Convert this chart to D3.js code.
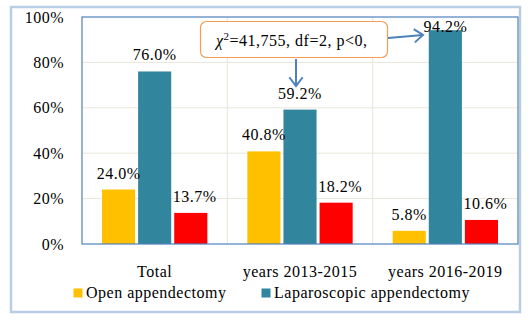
<!DOCTYPE html>
<html>
<head>
<meta charset="utf-8">
<script src="https://cdn.jsdelivr.net/npm/d3@7/dist/d3.min.js"></script>
<style>
  body { margin: 0; background: #fff; }
  svg text { font-family: "Liberation Serif", serif; fill: #000; }
</style>
</head>
<body>
<svg id="chart" width="531" height="322"></svg>
<script>
// chart data
var categories = ["Total", "years 2013-2015", "years 2016-2019"];
var seriesNames = ["Open appendectomy", "Laparoscopic appendectomy", "Other"];
var openValues = [24.0, 40.8, 5.8];
var lapValues = [76.0, 59.2, 94.2];
var otherValues = [13.7, 18.2, 10.6];
var yTicks = [0, 20, 40, 60, 80, 100];
var legendNames = ["Open appendectomy", "Laparoscopic appendectomy"];
var annotationText = "=41,755, df=2, p<0,";

var colors = ["#FFC000", "#31859C", "#FF0000"];
var serif = "'Liberation Serif', serif";

var svg = d3.select("#chart");
var plot = { left: 82, top: 17, right: 518, bottom: 244 };

// outer frame
svg.append("rect")
    .attr("x", 11).attr("y", 7)
    .attr("width", 509).attr("height", 305)
    .attr("fill", "#fff")
    .attr("stroke", "#B9CDE5")
    .attr("stroke-width", 2.5);

var x0 = d3.scaleBand()
    .domain(categories)
    .range([plot.left, plot.right])
    .padding(0);

var x1 = d3.scaleBand()
    .domain(seriesNames)
    .range([20, x0.bandwidth() - 20])
    .paddingInner(0.0833);

var y = d3.scaleLinear()
    .domain([0, 100])
    .range([plot.bottom, plot.top]);

// gridlines
svg.selectAll(".hgrid")
    .data(yTicks.filter(d => d > 0 && d < 100))
    .enter().append("line")
    .attr("x1", plot.left).attr("x2", plot.right)
    .attr("y1", d => y(d)).attr("y2", d => y(d))
    .attr("stroke", "#E8E6DA").attr("stroke-width", 1);

svg.selectAll(".vgrid")
    .data(categories.slice(1))
    .enter().append("line")
    .attr("x1", d => x0(d)).attr("x2", d => x0(d))
    .attr("y1", plot.top).attr("y2", plot.bottom)
    .attr("stroke", "#E8E6DA").attr("stroke-width", 1);

// y tick labels
svg.selectAll(".ytick")
    .data(yTicks)
    .enter().append("text")
    .attr("x", 64)
    .attr("y", d => y(d) + 5.5)
    .attr("text-anchor", "end")
    .style("font-family", serif)
    .style("font-size", "16px")
    .style("letter-spacing", "0.5px")
    .text(d => d + "%");

// bars
var rows = categories.map(function (c, i) {
    return [openValues[i], lapValues[i], otherValues[i]].map(function (v, j) {
        return { cat: c, series: seriesNames[j], value: v, idx: j };
    });
});

var groups = svg.selectAll(".grp")
    .data(rows)
    .enter().append("g")
    .attr("transform", d => "translate(" + x0(d[0].cat) + ",0)");

groups.selectAll("rect")
    .data(d => d)
    .enter().append("rect")
    .attr("x", d => x1(d.series))
    .attr("y", d => y(d.value))
    .attr("width", x1.bandwidth())
    .attr("height", d => y(0) - y(d.value))
    .attr("fill", d => colors[d.idx]);

groups.selectAll("text")
    .data(d => d)
    .enter().append("text")
    .attr("x", d => x1(d.series) + x1.bandwidth() / 2 + (d.idx === 2 ? 4 : 0))
    .attr("y", d => Math.max(y(d.value) - 11, plot.top + 15))
    .attr("text-anchor", "middle")
    .style("font-family", serif)
    .style("font-size", "16px")
    .style("letter-spacing", "0.5px")
    .text(d => d.value.toFixed(1) + "%");

// plot border
svg.append("rect")
    .attr("x", plot.left).attr("y", plot.top)
    .attr("width", plot.right - plot.left)
    .attr("height", plot.bottom - plot.top)
    .attr("fill", "none")
    .attr("stroke", "#4F81BD")
    .attr("stroke-width", 1.2);

// category labels
svg.selectAll(".xlab")
    .data(categories)
    .enter().append("text")
    .attr("x", d => x0(d) + x0.bandwidth() / 2)
    .attr("y", 277)
    .attr("text-anchor", "middle")
    .style("font-family", serif)
    .style("font-size", "16px")
    .style("letter-spacing", "0.5px")
    .text(d => d);

// legend
var legendX = [73.5, 261.5];
var leg = svg.selectAll(".leg")
    .data(legendNames)
    .enter().append("g")
    .attr("transform", (d, i) => "translate(" + legendX[i] + ",288.5)");
leg.append("rect")
    .attr("width", 9).attr("height", 9)
    .attr("fill", (d, i) => colors[i]);
leg.append("text")
    .attr("x", 12.5).attr("y", 9)
    .style("font-family", serif)
    .style("font-size", "16px")
    .style("letter-spacing", "0.5px")
    .text(d => d);

// annotation box
svg.append("rect")
    .attr("x", 200.5).attr("y", 21.5)
    .attr("width", 187).attr("height", 36)
    .attr("rx", 6)
    .attr("fill", "#fff")
    .attr("stroke", "#F59D56")
    .attr("stroke-width", 1.2);

var ann = svg.append("text")
    .attr("x", 216).attr("y", 46)
    .style("font-family", serif)
    .style("font-size", "16px")
    .style("letter-spacing", "0.5px");
ann.append("tspan").style("font-style", "italic").text("\u03c7");
ann.append("tspan").attr("dy", -6).style("font-size", "11px").text("2");
ann.append("tspan").attr("dy", 6).text(annotationText);

// arrows
var arrowColor = "#4F81BD";
function arrow(xa, ya, xb, yb) {
    svg.append("line")
        .attr("x1", xa).attr("y1", ya).attr("x2", xb).attr("y2", yb)
        .attr("stroke", arrowColor).attr("stroke-width", 2);
    var ang = Math.atan2(yb - ya, xb - xa);
    var len = 11, spread = 0.65;
    var pts = [
        [xb - len * Math.cos(ang - spread), yb - len * Math.sin(ang - spread)],
        [xb, yb],
        [xb - len * Math.cos(ang + spread), yb - len * Math.sin(ang + spread)]
    ];
    svg.append("path")
        .attr("d", d3.line()(pts))
        .attr("fill", "none")
        .attr("stroke", arrowColor).attr("stroke-width", 2);
}
arrow(296, 59, 296, 86);
arrow(388, 38, 423, 35);
</script>
</body>
</html>
